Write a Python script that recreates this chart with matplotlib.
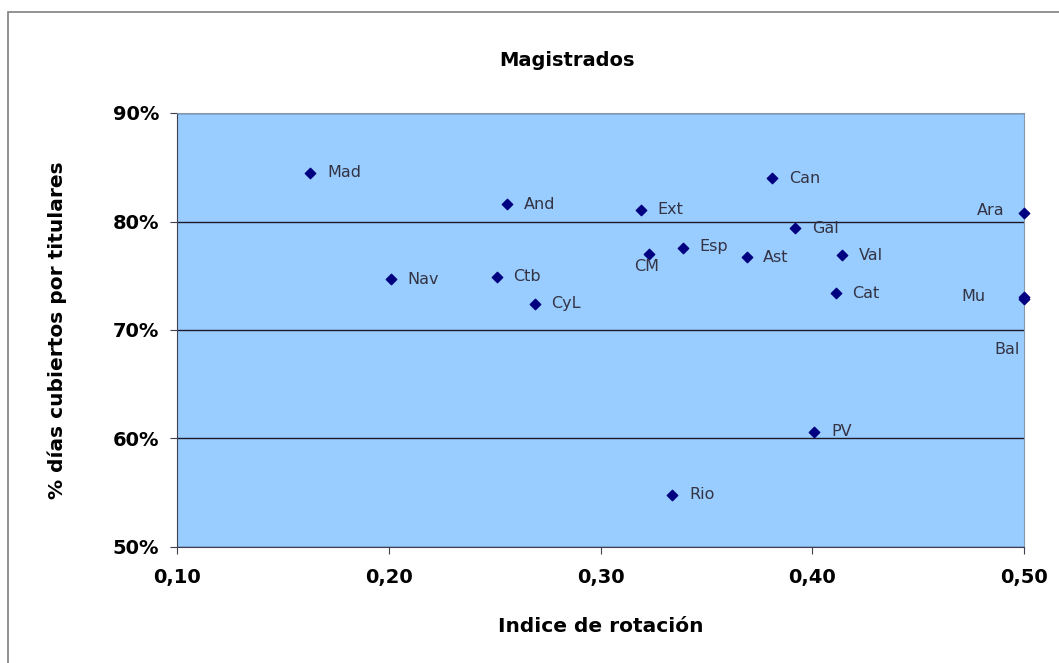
import matplotlib.pyplot as plt
from matplotlib.patches import Rectangle
from matplotlib.ticker import FuncFormatter, MultipleLocator

# data
regions = ['Mad', 'And', 'Nav', 'Ctb', 'CyL', 'Ext', 'CM', 'Esp', 'Ast', 'Can',
           'Gal', 'Val', 'Cat', 'Ara', 'Mu', 'Bal', 'PV', 'Rio']
rotacion = [0.163, 0.256, 0.201, 0.251, 0.269, 0.319, 0.323, 0.339, 0.369, 0.381,
            0.392, 0.414, 0.411, 0.500, 0.500, 0.500, 0.401, 0.334]
cubiertos = [0.845, 0.816, 0.747, 0.749, 0.724, 0.811, 0.770, 0.776, 0.767, 0.840,
             0.794, 0.769, 0.734, 0.808, 0.730, 0.729, 0.606, 0.548]

# label placement (offset in points, alignment)
label_style = {
    'CM': ((-2, -9), 'center'),
    'Ara': ((-14, 2), 'right'),
    'Mu': ((-28, 1), 'right'),
    'Bal': ((-3, -37), 'right'),
    'Esp': ((12, 1), 'left'),
}

fig = plt.figure(figsize=(10.59, 6.63), dpi=100)
fig.patches.append(Rectangle((8 / 1059, -0.1), 1.2, 1 - 12 / 663 + 0.1,
                             transform=fig.transFigure, fill=False,
                             edgecolor='#808080', linewidth=1.2))

ax = fig.add_axes([177 / 1059, 1 - 547 / 663, 847 / 1059, 434 / 663])
ax.set_facecolor('#99ccff')
ax.set_xlim(0.10, 0.50)
ax.set_ylim(0.50, 0.90)
ax.xaxis.set_major_locator(MultipleLocator(0.10))
ax.yaxis.set_major_locator(MultipleLocator(0.10))
ax.xaxis.set_major_formatter(FuncFormatter(lambda v, p: f'{v:.2f}'.replace('.', ',')))
ax.yaxis.set_major_formatter(FuncFormatter(lambda v, p: f'{v * 100:.0f}%'))
ax.grid(axis='y', color='#1a1a2a', linewidth=1.0)
ax.set_axisbelow(True)
for side in ['left', 'bottom']:
    ax.spines[side].set_color('#404050')
for side in ['right', 'top']:
    ax.spines[side].set_color('#8899aa')
    ax.spines[side].set_linewidth(0.8)
ax.tick_params(direction='out', length=5, color='#404050', labelsize=14)
ax.tick_params(axis='x', pad=10)
ax.tick_params(axis='y', pad=8)
for lbl in ax.get_xticklabels() + ax.get_yticklabels():
    lbl.set_fontweight('bold')

ax.scatter(rotacion, cubiertos, marker='D', s=28, color='#000080',
           zorder=3, clip_on=False)
for name, x, y in zip(regions, rotacion, cubiertos):
    off, ha = label_style.get(name, ((12, 0), 'left'))
    ax.annotate(name, (x, y), xytext=off, textcoords='offset points',
                ha=ha, va='center', fontsize=11.5, color='#333344')

ax.set_xlabel('Indice de rotación', fontsize=14.5, fontweight='bold', labelpad=22)
ax.set_ylabel('% días cubiertos por titulares', fontsize=14.5, fontweight='bold',
              labelpad=33)
fig.text(567 / 1059, 1 - 60 / 663, 'Magistrados', ha='center', va='center',
         fontsize=14, fontweight='bold')

fig.savefig('out.png', dpi=100)
